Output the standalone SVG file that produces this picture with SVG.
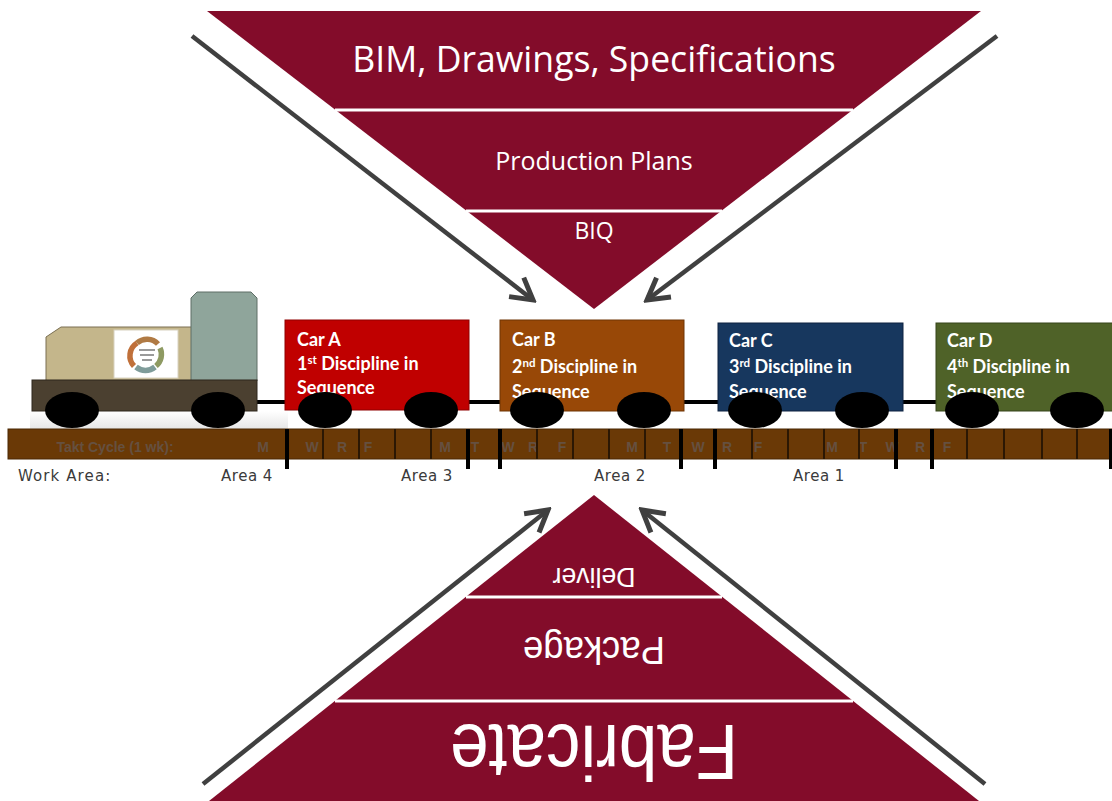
<svg xmlns="http://www.w3.org/2000/svg" width="1112" height="801" viewBox="0 0 1112 801">
  <defs>
    <style>
      .tri { fill: #830C2A; }
      .sep { stroke: #ffffff; stroke-width: 3; }
      .tritext { fill: #ffffff; font-family: "Open Sans", "Noto Sans", sans-serif; text-anchor: middle; }
      .invtext { fill: #ffffff; font-family: "Liberation Sans", Arial, sans-serif; text-anchor: middle; }
      .arrow { stroke: #404040; stroke-width: 4.5; fill: none; marker-end: url(#chev); }
      .car { stroke-width: 1; }
      .cartext { fill: #ffffff; font-family: Lato, "Open Sans", sans-serif; font-weight: bold; font-size: 18px; }
      .sup { font-size: 11.5px; }
      .wheel { fill: #000000; }
      .thin { stroke: #2b1703; stroke-width: 2; }
      .thick { stroke: #000000; stroke-width: 4; }
      .day { fill: #655040; font-family: "Liberation Sans", Arial, sans-serif; font-weight: bold; font-size: 14px; text-anchor: middle; }
      .area { fill: #3a3a3a; font-family: "DejaVu Sans", Verdana, sans-serif; font-size: 15px; }
    </style>
    <marker id="chev" viewBox="-26 -16 30 32" refX="0" refY="0" markerUnits="userSpaceOnUse" markerWidth="30" markerHeight="32" orient="auto">
      <path d="M-21,-12 L0,0 L-21,12" stroke="#404040" stroke-width="5" fill="none" stroke-linejoin="miter"/>
    </marker>
    <linearGradient id="shade" x1="0" y1="0" x2="0" y2="1">
      <stop offset="0" stop-color="#ffffff"/>
      <stop offset="1" stop-color="#e6e6e6"/>
    </linearGradient>
  </defs>

  <rect width="1112" height="801" fill="#ffffff"/>

  <!-- Upper funnel: design inputs -->
  <g id="design-funnel">
    <polygon class="tri" points="207,11 981,11 594,309"/>
    <line class="sep" x1="335" y1="110" x2="853" y2="110"/>
    <line class="sep" x1="466" y1="211" x2="722" y2="211"/>
    <text class="tritext" x="594" y="72" font-size="35.6">BIM, Drawings, Specifications</text>
    <text class="tritext" x="594" y="170" font-size="25">Production Plans</text>
    <text class="tritext" x="594" y="239" font-size="23">BIQ</text>
  </g>

  <!-- Lower funnel: supply side, drawn inverted -->
  <g id="supply-funnel">
    <polygon class="tri" points="594,495 209,801 979,801"/>
    <line class="sep" x1="466" y1="597" x2="722" y2="597"/>
    <line class="sep" x1="335" y1="701" x2="853" y2="701"/>
    <text class="invtext" x="594" y="588" font-size="27" textLength="83" lengthAdjust="spacingAndGlyphs" transform="rotate(180 594 578)">Deliver</text>
    <text class="invtext" x="594" y="663" font-size="38" textLength="142" lengthAdjust="spacingAndGlyphs" transform="rotate(180 594 650)">Package</text>
    <text class="invtext" x="594" y="781" font-size="78" textLength="288" lengthAdjust="spacingAndGlyphs" transform="rotate(180 594 753)">Fabricate</text>
  </g>

  <!-- Track with takt cycle divisions -->
  <g id="track">
    <rect x="30" y="411" width="258" height="18" fill="url(#shade)"/>
    <rect x="8" y="429" width="1110" height="30" fill="#6A3906" stroke="#4a2804" stroke-width="1"/>
    <text class="day" x="115" y="452">Takt Cycle (1 wk):</text>
    <text class="day" x="263" y="452">M</text>
    <text class="day" x="312" y="452">W</text>
    <text class="day" x="342" y="452">R</text>
    <text class="day" x="368" y="452">F</text>
    <text class="day" x="445" y="452">M</text>
    <text class="day" x="475" y="452">T</text>
    <text class="day" x="508" y="452">W</text>
    <text class="day" x="533" y="452">R</text>
    <text class="day" x="562" y="452">F</text>
    <text class="day" x="632" y="452">M</text>
    <text class="day" x="667" y="452">T</text>
    <text class="day" x="698" y="452">W</text>
    <text class="day" x="727" y="452">R</text>
    <text class="day" x="758" y="452">F</text>
    <text class="day" x="832" y="452">M</text>
    <text class="day" x="863" y="452">T</text>
    <text class="day" x="892" y="452">W</text>
    <text class="day" x="920" y="452">R</text>
    <text class="day" x="947" y="452">F</text>
    <g>
      <line class="thin" x1="323" y1="429" x2="323" y2="459"/>
      <line class="thin" x1="359" y1="429" x2="359" y2="459"/>
      <line class="thin" x1="395" y1="429" x2="395" y2="459"/>
      <line class="thin" x1="431" y1="429" x2="431" y2="459"/>
      <line class="thin" x1="537" y1="429" x2="537" y2="459"/>
      <line class="thin" x1="573" y1="429" x2="573" y2="459"/>
      <line class="thin" x1="609" y1="429" x2="609" y2="459"/>
      <line class="thin" x1="645" y1="429" x2="645" y2="459"/>
      <line class="thin" x1="752" y1="429" x2="752" y2="459"/>
      <line class="thin" x1="788" y1="429" x2="788" y2="459"/>
      <line class="thin" x1="824" y1="429" x2="824" y2="459"/>
      <line class="thin" x1="859" y1="429" x2="859" y2="459"/>
      <line class="thin" x1="967" y1="429" x2="967" y2="459"/>
      <line class="thin" x1="1004" y1="429" x2="1004" y2="459"/>
      <line class="thin" x1="1042" y1="429" x2="1042" y2="459"/>
      <line class="thin" x1="1077" y1="429" x2="1077" y2="459"/>
    </g>
    <g>
      <line class="thick" x1="287" y1="429" x2="287" y2="469"/>
      <line class="thick" x1="468" y1="429" x2="468" y2="469"/>
      <line class="thick" x1="500" y1="429" x2="500" y2="469"/>
      <line class="thick" x1="681" y1="429" x2="681" y2="469"/>
      <line class="thick" x1="715" y1="429" x2="715" y2="469"/>
      <line class="thick" x1="896" y1="429" x2="896" y2="469"/>
      <line class="thick" x1="932" y1="429" x2="932" y2="469"/>
      <line class="thick" x1="1111" y1="429" x2="1111" y2="469"/>
    </g>
  </g>

  <!-- Work area labels -->
  <g id="work-areas">
    <text class="area" x="18" y="481" letter-spacing="1.1">Work Area:</text>
    <text class="area" x="247" y="481" text-anchor="middle" letter-spacing="0.5">Area 4</text>
    <text class="area" x="427" y="481" text-anchor="middle" letter-spacing="0.5">Area 3</text>
    <text class="area" x="620" y="481" text-anchor="middle" letter-spacing="0.5">Area 2</text>
    <text class="area" x="819" y="481" text-anchor="middle" letter-spacing="0.5">Area 1</text>
  </g>

  <!-- Coupling bar linking the train -->
  <g id="coupling">
    <line x1="256" y1="402" x2="1112" y2="402" stroke="#000000" stroke-width="4"/>
  </g>

  <!-- Locomotive -->
  <g id="locomotive">
    <polygon points="46,381 46,337 61,327 192,327 192,381" fill="#C4B68B" stroke="#7a6f52" stroke-width="1"/>
    <polygon points="191,381 191,298 197,292 251,292 257,298 257,381" fill="#8FA59B" stroke="#5e6e66" stroke-width="1"/>
    <rect x="114" y="330" width="64" height="48" fill="#ffffff" stroke="#d8d2c0" stroke-width="1"/>
    <g fill="none" stroke-width="5.5">
      <path d="M137,343 A15,15 0 0 0 134,366" stroke="#C0703A"/>
      <path d="M137,343 A15,15 0 0 1 158,344" stroke="#B07A44"/>
      <path d="M160,348 A15,15 0 0 1 156,366" stroke="#8E9A62"/>
      <path d="M155,367 A15,15 0 0 1 136,367" stroke="#7F9C9A"/>
    </g>
    <rect x="139" y="349" width="16" height="2" fill="#9a9a9a"/>
    <rect x="140" y="354" width="14" height="2" fill="#9a9a9a"/>
    <rect x="142" y="359" width="10" height="2" fill="#9a9a9a"/>
    <rect x="32" y="380" width="225" height="31" fill="#4B4030" stroke="#2e271c" stroke-width="1"/>
    <ellipse class="wheel" cx="72" cy="410" rx="27" ry="18"/>
    <ellipse class="wheel" cx="218" cy="410" rx="27" ry="18"/>
  </g>

  <!-- Car A -->
  <g id="car-a">
    <rect class="car" x="285" y="320" width="184" height="90" fill="#C00000" stroke="#8f0000"/>
    <text class="cartext" x="297" y="346">Car A</text>
    <text class="cartext" x="297" y="370">1<tspan class="sup" dy="-6">st</tspan><tspan dy="6"> Discipline in</tspan></text>
    <text class="cartext" x="297" y="394">Sequence</text>
    <ellipse class="wheel" cx="325" cy="410" rx="27" ry="18"/>
    <ellipse class="wheel" cx="431" cy="410" rx="27" ry="18"/>
  </g>

  <!-- Car B -->
  <g id="car-b">
    <rect class="car" x="500" y="320" width="184" height="91" fill="#984807" stroke="#6f3405"/>
    <text class="cartext" x="512" y="346">Car B</text>
    <text class="cartext" x="512" y="373">2<tspan class="sup" dy="-6">nd</tspan><tspan dy="6"> Discipline in</tspan></text>
    <text class="cartext" x="512" y="398">Sequence</text>
    <ellipse class="wheel" cx="537" cy="410" rx="27" ry="18"/>
    <ellipse class="wheel" cx="644" cy="410" rx="27" ry="18"/>
  </g>

  <!-- Car C -->
  <g id="car-c">
    <rect class="car" x="718" y="323" width="185" height="88" fill="#17375E" stroke="#0e2340"/>
    <text class="cartext" x="729" y="347">Car C</text>
    <text class="cartext" x="729" y="373">3<tspan class="sup" dy="-6">rd</tspan><tspan dy="6"> Discipline in</tspan></text>
    <text class="cartext" x="729" y="398">Sequence</text>
    <ellipse class="wheel" cx="755" cy="410" rx="27" ry="18"/>
    <ellipse class="wheel" cx="862" cy="410" rx="27" ry="18"/>
  </g>

  <!-- Car D -->
  <g id="car-d">
    <rect class="car" x="936" y="323" width="180" height="88" fill="#4F6228" stroke="#36441b"/>
    <text class="cartext" x="947" y="347">Car D</text>
    <text class="cartext" x="947" y="373">4<tspan class="sup" dy="-6">th</tspan><tspan dy="6"> Discipline in</tspan></text>
    <text class="cartext" x="947" y="398">Sequence</text>
    <ellipse class="wheel" cx="972" cy="410" rx="27" ry="18"/>
    <ellipse class="wheel" cx="1077" cy="410" rx="27" ry="18"/>
  </g>

  <!-- Flow arrows into the work area -->
  <g id="connectors">
    <line class="arrow" x1="192" y1="36" x2="533" y2="300"/>
    <line class="arrow" x1="997" y1="36" x2="647" y2="300"/>
    <line class="arrow" x1="203" y1="784" x2="548" y2="510"/>
    <line class="arrow" x1="985" y1="784" x2="642" y2="510"/>
  </g>
</svg>
